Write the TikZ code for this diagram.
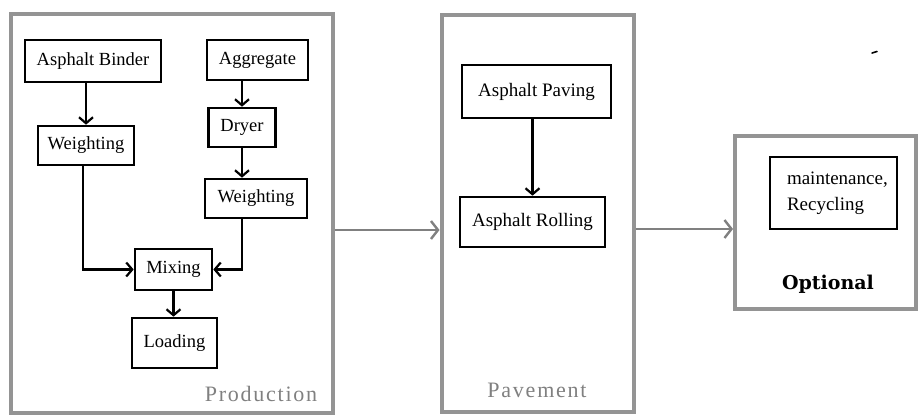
\documentclass[tikz,border=0pt]{standalone}
\usepackage{fontspec}
\setmainfont{Liberation Serif}
\newfontfamily\spacedfont[LetterSpace=8]{Liberation Serif}
\newfontfamily\optfont{DejaVu Serif}
\usetikzlibrary{arrows.meta}
\begin{document}
\begin{tikzpicture}[x=1pt,y=-1pt,
  bigbox/.style={draw=black!42, line width=4pt, inner sep=0pt},
  inbox/.style={draw=black, line width=2.6pt, inner sep=0pt, align=center,
    font=\fontsize{18.5}{20}\selectfont},
  arr/.style={line width=2.6pt, -{Straight Barb[length=6pt,width=14pt,line width=2.2pt]}},
  garr/.style={draw=black!50, line width=2.8pt, -{Straight Barb[length=7pt,width=18pt,line width=2.4pt]}},
  grouplabel/.style={text=black!50, font=\spacedfont\fontsize{22}{24}\selectfont, inner sep=0pt}]
\useasboundingbox (0,0) rectangle (918,416);
\fill[white] (0,0) rectangle (918,416);
% group boxes
\node[bigbox, minimum width=322pt, minimum height=399pt] (Prod) at (171.5,213.5) {};
\node[bigbox, minimum width=192pt, minimum height=397pt] (Pave) at (537.5,213.5) {};
\node[bigbox, minimum width=181pt, minimum height=173pt] (Opt) at (825.5,222.5) {};
% production steps
\node[inbox, minimum width=136pt, minimum height=42pt] (Binder) at (93,61) {Asphalt Binder};
\node[inbox, minimum width=101pt, minimum height=40pt] (Aggr) at (257.5,60) {Aggregate};
\node[inbox, minimum width=96pt, minimum height=39pt] (WeightL) at (86,145.5) {Weighting};
\node[inbox, minimum width=67pt, minimum height=39pt] (Dryer) at (242,127.5) {Dryer};
\node[inbox, minimum width=102pt, minimum height=39pt] (WeightR) at (256,198.5) {Weighting};
\node[inbox, minimum width=77pt, minimum height=41pt] (Mixing) at (173.5,269.5) {Mixing};
\node[inbox, minimum width=85pt, minimum height=50pt] (Loading) at (174.5,343) {Loading};
\node[grouplabel] (ProdL) at (261,394) {Production};
% pavement steps
\node[inbox, minimum width=149pt, minimum height=53pt, font=\fontsize{19}{20}\selectfont] (Paving) at (536.5,91.5) {Asphalt Paving};
\node[inbox, minimum width=145pt, minimum height=50pt, font=\fontsize{19}{20}\selectfont] (Rolling) at (532.5,222) {Asphalt Rolling};
\node[grouplabel] (PaveL) at (537,390) {Pavement};
% optional
\node[inbox, minimum width=127pt, minimum height=72pt, align=left, text width=93pt,
  font=\fontsize{19}{26}\selectfont] (Maint) at (833.5,193) {maintenance,\\Recycling};
\node[font=\optfont\bfseries\fontsize{19}{20}\selectfont, inner sep=0pt] (OptL) at (828,284) {Optional};
% small mark
\draw[line width=1.6pt, line cap=round] (872,53) -- (877,51.5);
% connectors inside production
\draw[arr] (Binder.south -| WeightL.north) -- (WeightL.north);
\draw[arr] ([xshift=-3pt]WeightL.south) |- (Mixing.west);
\draw[arr] (Aggr.south -| Dryer.north) -- (Dryer.north);
\draw[arr] (Dryer.south) -- (Dryer.south |- WeightR.north);
\draw[arr] (WeightR.south -| Dryer.south) |- (Mixing.east);
\draw[arr] (Mixing.south) -- (Mixing.south |- Loading.north);
% pavement
\draw[arr] (Paving.south -| Rolling.north) -- (Rolling.north);
% group connectors
\coordinate (y1) at (0,230);
\coordinate (y2) at (0,229);
\draw[garr] (Prod.east |- y1) -- (Pave.west |- y1);
\draw[garr] (Pave.east |- y2) -- (Opt.west |- y2);
\end{tikzpicture}
\end{document}
